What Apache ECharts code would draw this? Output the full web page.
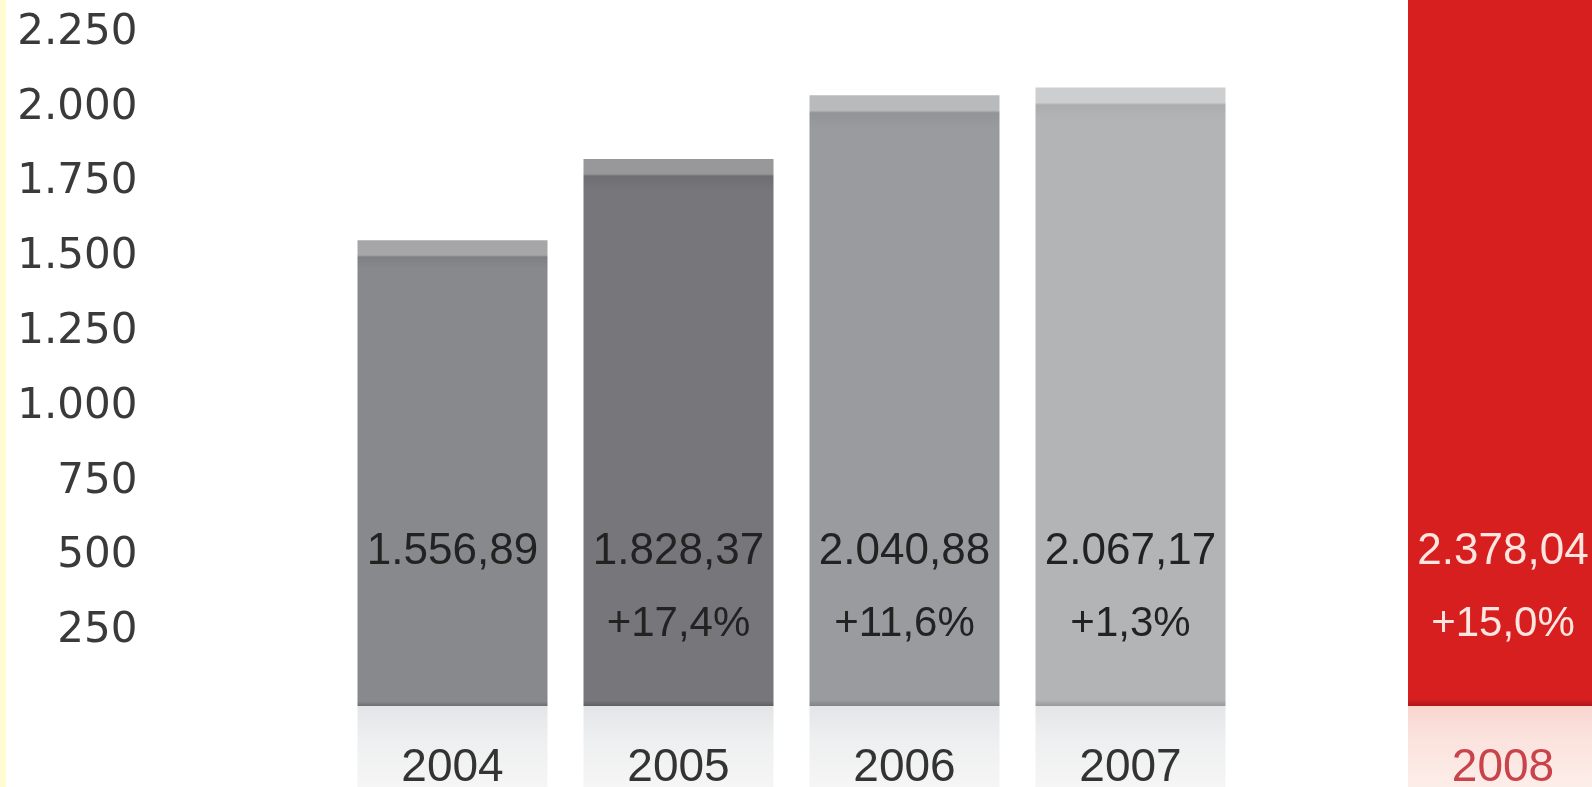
<!DOCTYPE html>
<html><head><meta charset="utf-8">
<script src="https://cdn.jsdelivr.net/npm/echarts@6/dist/echarts.min.js"></script>
<style>
html,body{margin:0;padding:0;width:1592px;height:787px;overflow:hidden;position:relative;
background:linear-gradient(to right,#fffbd2 0,#fffbd2 6px,#ffffff 6px);}
#chart{position:absolute;left:0;top:-42px;width:1600px;height:829px;}
</style></head><body><div id="chart"></div>
<script>
// ---- data ----
const years = ['2004', '2005', '2006', '2007', '2008'];
const values = [1556.89, 1828.37, 2040.88, 2067.17, 2378.04];
const changes = [null, 17.4, 11.6, 1.3, 15.0];
const yMin = 0, yMax = 2500, yStep = 250;

// ---- formatting ----
function thousands(s) { return s.replace(/\B(?=(\d{3})+(?!\d))/g, '.'); }
function fmtVal(v) { const p = v.toFixed(2).split('.'); return thousands(p[0]) + ',' + p[1]; }
function fmtPct(c) { return c == null ? ' ' : '+' + c.toFixed(1).replace('.', ',') + '%'; }

// ---- styles ----
const FONT = 'Liberation Sans';
const GRID_H = 748; // plot height in px (style)
const bodyCols = ['#88898c', '#77777b', '#999b9e', '#b2b4b6', '#d81f20'];
const stripeCols = ['#a6a6a8', '#98989a', '#b9babb', '#cdcecf', '#d81f20'];
const bandCols = ['#7f8083', '#6f6f73', '#929497', '#abadaf', '#d81f20'];
const edgeCols = ['#6d6e71', '#5f5f63', '#808285', '#97999b', '#b01618'];
function barGrad(i) {
  const hPx = (values[i] - yMin) / (yMax - yMin) * GRID_H;
  const f = Math.min(0.05, 15 / hPx);
  return new echarts.graphic.LinearGradient(0, 0, 0, 1, [
    { offset: 0, color: stripeCols[i] },
    { offset: f, color: stripeCols[i] },
    { offset: f + 0.004, color: bandCols[i] },
    { offset: f + 0.03, color: bodyCols[i] },
    { offset: 0.99, color: bodyCols[i] },
    { offset: 1, color: edgeCols[i] }
  ]);
}
function reflGrad(red) {
  return new echarts.graphic.LinearGradient(0, 0, 0, 1, red ? [
    { offset: 0, color: '#f8d6cf' }, { offset: 0.4, color: '#fbe3de' }, { offset: 1, color: '#fdeeea' }
  ] : [
    { offset: 0, color: '#e4e5e6' }, { offset: 0.4, color: '#eeeff0' }, { offset: 1, color: '#f6f6f6' }
  ]);
}

const mainIdx = [0, 1, 2, 3];
const hiIdx = [4];

function labelCfg(color) {
  return {
    show: true, position: 'insideBottom', distance: 45,
    formatter: p => '{v|' + fmtVal(values[p.data.idx]) + '}\n{p|' + fmtPct(changes[p.data.idx]) + '}',
    rich: {
      v: { fontFamily: FONT, fontSize: 44, lineHeight: 73, color: color },
      p: { fontFamily: FONT, fontSize: 42, lineHeight: 73, color: color }
    }
  };
}
function xAxisCfg(grid, idxs, red) {
  return {
    type: 'category', gridIndex: grid, data: idxs.map(i => years[i]),
    axisLine: { show: false }, axisTick: { show: false },
    axisLabel: {
      interval: 0, margin: 0, width: 190, align: 'center',
      fontFamily: FONT, fontSize: 46, lineHeight: 46,
      color: red ? '#c8434a' : '#333333',
      padding: [39, 0, 0, 0],
      backgroundColor: reflGrad(red)
    }
  };
}
function yAxisCfg(grid, showLabels) {
  return {
    type: 'value', gridIndex: grid, min: yMin, max: yMax, interval: yStep,
    axisLine: { show: false }, axisTick: { show: false }, splitLine: { show: false },
    axisLabel: {
      show: showLabels, margin: 202, fontFamily: 'DejaVu Sans', fontSize: 42, color: '#3a3a3a',
      padding: [0, 0, 8, 0],
      formatter: v => (v <= yMin || v >= yMax) ? '' : thousands(String(v))
    }
  };
}

const chart = echarts.init(document.getElementById('chart'), null, { renderer: 'canvas' });
chart.setOption({
  backgroundColor: 'transparent',
  animation: false,
  grid: [
    { left: 339.5, right: 356.5, top: 0, bottom: 81, outerBoundsMode: 'none', containLabel: false },
    { left: 1408, right: 2, top: 0, bottom: 81, outerBoundsMode: 'none', containLabel: false }
  ],
  xAxis: [xAxisCfg(0, mainIdx, false), xAxisCfg(1, hiIdx, true)],
  yAxis: [yAxisCfg(0, true), yAxisCfg(1, false)],
  series: [
    {
      type: 'bar', xAxisIndex: 0, yAxisIndex: 0, barWidth: 190,
      data: mainIdx.map(i => ({ value: values[i], idx: i, itemStyle: { color: barGrad(i) } })),
      label: labelCfg('#222222')
    },
    {
      type: 'bar', xAxisIndex: 1, yAxisIndex: 1, barWidth: 190,
      data: hiIdx.map(i => ({ value: values[i], idx: i, itemStyle: { color: barGrad(i) } })),
      label: labelCfg('#fde6df')
    }
  ]
});
</script></body></html>
